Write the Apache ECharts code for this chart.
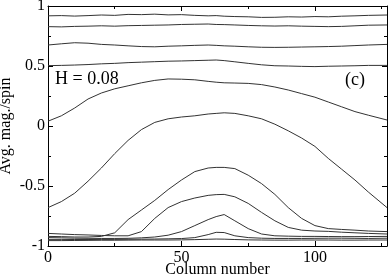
<!DOCTYPE html>
<html><head><meta charset="utf-8">
<script src="https://cdn.jsdelivr.net/npm/echarts@6/dist/echarts.min.js"></script>
<style>html,body{margin:0;padding:0;background:#fff}#c{width:390px;height:277px}</style>
</head><body><div id="c"></div>
<script>
const columns = [0,5,10,15,20,25,30,35,40,45,50,55,60,63,66,70,75,80,85,90,95,100,105,110,115,120,127];
const line1 = [0.918,0.92,0.916,0.92,0.925,0.922,0.93,0.928,0.932,0.926,0.928,0.922,0.918,0.92,0.915,0.912,0.91,0.905,0.906,0.91,0.908,0.912,0.91,0.915,0.918,0.922,0.925];
const line2 = [0.828,0.826,0.83,0.832,0.835,0.832,0.836,0.838,0.84,0.842,0.846,0.848,0.85,0.846,0.845,0.842,0.838,0.835,0.833,0.835,0.832,0.83,0.828,0.83,0.835,0.84,0.842];
const line3 = [0.675,0.685,0.694,0.69,0.68,0.675,0.668,0.662,0.66,0.665,0.668,0.672,0.675,0.672,0.668,0.665,0.66,0.656,0.655,0.656,0.658,0.66,0.662,0.665,0.67,0.675,0.68];
const line4 = [0.503,0.505,0.508,0.512,0.518,0.522,0.528,0.532,0.536,0.54,0.542,0.545,0.548,0.55,0.545,0.535,0.522,0.51,0.502,0.5,0.497,0.495,0.498,0.5,0.502,0.505,0.505];
const line5 = [0.04,0.085,0.15,0.225,0.275,0.31,0.335,0.36,0.38,0.392,0.39,0.385,0.372,0.365,0.36,0.358,0.355,0.345,0.325,0.30,0.27,0.24,0.20,0.16,0.12,0.09,0.05];
const line6 = [-0.68,-0.63,-0.56,-0.46,-0.35,-0.23,-0.12,-0.03,0.03,0.06,0.075,0.085,0.1,0.105,0.11,0.105,0.085,0.06,0.015,-0.04,-0.1,-0.17,-0.27,-0.36,-0.45,-0.55,-0.68];
const line7 = [-0.92,-0.922,-0.925,-0.925,-0.92,-0.89,-0.78,-0.70,-0.62,-0.53,-0.45,-0.38,-0.35,-0.345,-0.345,-0.355,-0.41,-0.48,-0.57,-0.68,-0.77,-0.83,-0.855,-0.862,-0.868,-0.875,-0.88];
const line8 = [-0.895,-0.9,-0.905,-0.908,-0.912,-0.915,-0.915,-0.88,-0.77,-0.68,-0.63,-0.6,-0.578,-0.572,-0.57,-0.59,-0.645,-0.72,-0.79,-0.845,-0.868,-0.875,-0.878,-0.885,-0.89,-0.895,-0.9];
const line9 = [-0.93,-0.932,-0.935,-0.936,-0.937,-0.937,-0.936,-0.932,-0.925,-0.91,-0.88,-0.83,-0.78,-0.755,-0.738,-0.79,-0.855,-0.9,-0.915,-0.918,-0.92,-0.92,-0.921,-0.922,-0.922,-0.921,-0.92];
const line10 = [-0.945,-0.945,-0.946,-0.946,-0.945,-0.945,-0.944,-0.943,-0.942,-0.94,-0.938,-0.93,-0.905,-0.886,-0.888,-0.915,-0.93,-0.935,-0.937,-0.937,-0.937,-0.936,-0.935,-0.935,-0.936,-0.937,-0.935];
const line11 = [-0.955,-0.955,-0.954,-0.953,-0.952,-0.952,-0.951,-0.95,-0.95,-0.95,-0.949,-0.947,-0.944,-0.942,-0.943,-0.946,-0.949,-0.95,-0.951,-0.951,-0.95,-0.95,-0.95,-0.951,-0.951,-0.95,-0.95];
const allLines = [line1,line2,line3,line4,line5,line6,line7,line8,line9,line10,line11];
const xTicksMajor = 50, xTicksMinor = 25;
const yTicksMajor = 0.5;
const labelH = 'H = 0.08';
const labelPanel = '(c)';

const serif = '"Liberation Serif","DejaVu Serif",serif';
const chart = echarts.init(document.getElementById('c'), null, {renderer:'canvas'});
function xa(pos, interval, len, labels, line) {
  return {
    type:'value', position:pos, min:0, max:127, interval:interval,
    axisLine:{show:line, onZero:false, lineStyle:{color:'#000', width:1}},
    axisTick:{show:true, inside:true, length:len, lineStyle:{color:'#000', width:1}},
    axisLabel:{show:labels, margin:4, color:'#000', fontFamily:serif, fontSize:16, showMaxLabel:false},
    splitLine:{show:false}
  };
}
const x0 = xa('bottom', xTicksMajor, 5, true, true);
x0.name = 'Column number'; x0.nameLocation = 'middle'; x0.nameGap = 16; x0.nameMoveOverlap = false;
x0.nameTextStyle = {color:'#000', fontFamily:serif, fontSize:16};
function ya(pos, labels) {
  return {
    type:'value', position:pos, min:-1, max:1, interval:yTicksMajor,
    axisLine:{show:true, onZero:false, lineStyle:{color:'#000', width:1}},
    axisTick:{show:true, inside:true, length:5, lineStyle:{color:'#000', width:1}},
    minorTick:{show:true, splitNumber:2, length:3, lineStyle:{color:'#000', width:1}},
    axisLabel:{show:labels, margin:3, color:'#000', fontFamily:serif, fontSize:16},
    splitLine:{show:false}, minorSplitLine:{show:false}
  };
}
const y0 = ya('left', true);
y0.name = 'Avg. mag./spin'; y0.nameLocation = 'middle'; y0.nameGap = 34; y0.nameRotate = 90; y0.nameMoveOverlap = false;
y0.nameTextStyle = {color:'#000', fontFamily:serif, fontSize:16};

chart.setOption({
  animation:false,
  backgroundColor:'#fff',
  grid:{left:48, right:3, top:6, bottom:31, containLabel:false, outerBoundsMode:'none'},
  xAxis:[x0, xa('bottom', xTicksMinor, 3, false, false), xa('top', xTicksMajor, 5, false, true), xa('top', xTicksMinor, 3, false, false)],
  yAxis:[y0, ya('right', false)],
  series: allLines.map(v => ({
    type:'line', xAxisIndex:0, yAxisIndex:0, showSymbol:false, symbol:'none',
    lineStyle:{color:'#333', width:1}, silent:true,
    data: columns.map((c,i)=>[c, v[i]])
  })),
  graphic:[
    {type:'text', left:55, top:70, style:{text:labelH, font:'18px ' + serif, fill:'#000'}},
    {type:'text', left:345, top:71, style:{text:labelPanel, font:'18px ' + serif, fill:'#000'}}
  ]
});
</script></body></html>
